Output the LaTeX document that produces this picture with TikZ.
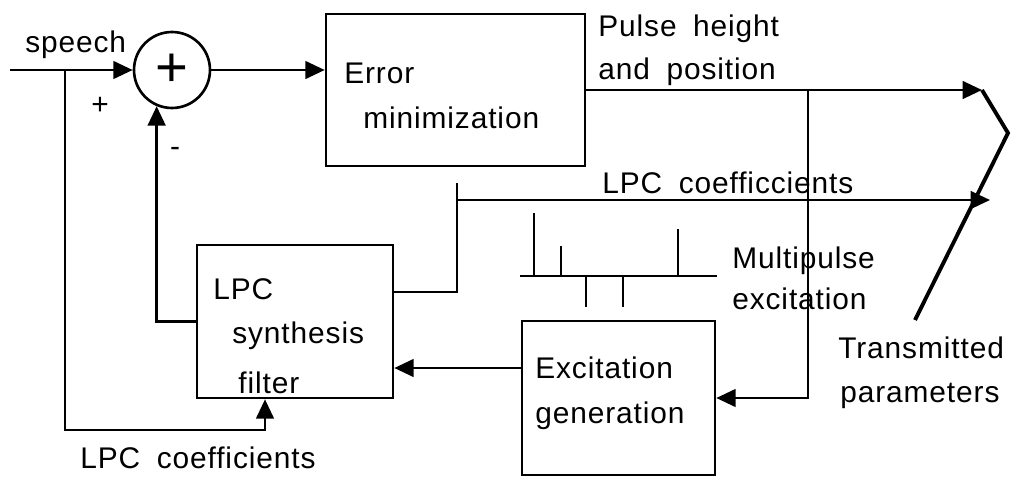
\documentclass[tikz,border=0pt]{standalone}
\usepackage{fontspec}
\setmainfont{Liberation Sans}[LetterSpace=3,WordSpace=1.8]
\usetikzlibrary{arrows.meta,positioning,calc}
\tikzset{
  blk/.style={draw,line width=1.5pt,inner sep=0pt},
  sumc/.style={draw,circle,line width=1.5pt,minimum size=1.52cm,inner sep=0pt,font=\fontsize{32}{32}\selectfont},
  arr/.style={-{Triangle[length=11pt,width=10pt]},line width=1.5pt},
  wire/.style={line width=1.5pt},
  lbl/.style={font=\fontsize{17}{20}\selectfont,inner sep=0pt,anchor=base west},
}

\begin{document}
\begin{tikzpicture}[x=0.02cm,y=-0.02cm]
  \useasboundingbox (0,0) rectangle (1021,477);
  % blocks
  \node[sumc] (sum) at (172,70) {+};
  \node[blk,minimum width=5.18cm,minimum height=3.04cm] (err) at (455.5,90) {};
  \node[blk,minimum width=3.92cm,minimum height=3.06cm] (lpc) at (295,321.5) {};
  \node[blk,minimum width=3.86cm,minimum height=3.08cm] (exc) at (618.5,398) {};
  % texts
  \node[lbl] (tspeech) at (25,52) {speech};
  \node[lbl,anchor=center] (tplus) at (100,106) {+};
  \node[lbl,anchor=center] (tminus) at (175,152) {-};
  \node[lbl] (terr1) at (344,83) {Error};
  \node[lbl] (terr2) at (363,128) {minimization};
  \node[lbl] (tpulse1) at (598,36) {Pulse height};
  \node[lbl] (tpulse2) at (598,79) {and position};
  \node[lbl] (tcoef1) at (602,193) {LPC coefficcients};
  \node[lbl] (tmulti1) at (732,268) {Multipulse};
  \node[lbl] (tmulti2) at (732,309) {excitation};
  \node[lbl] (tlpc1) at (213,299) {LPC};
  \node[lbl] (tlpc2) at (232,343) {synthesis};
  \node[lbl] (tlpc3) at (238,393) {filter};
  \node[lbl] (texc1) at (535,378) {Excitation};
  \node[lbl] (texc2) at (535,423) {generation};
  \node[lbl] (ttx1) at (838,358) {Transmitted};
  \node[lbl] (ttx2) at (840,402) {parameters};
  \node[lbl] (tcoef2) at (80,468) {LPC coefficients};
  % free ends
  \coordinate (in) at (10,70);
  \coordinate (split) at (65,70);
  \coordinate (tap) at (808,90);
  \coordinate (tx1) at (982,90);
  \coordinate (knee) at (1008,133);
  \coordinate (txend) at (915,320);
  \coordinate (stub) at (457,183);
  \coordinate (tx2) at (990,200);
  % connectors
  \draw[arr] (in) -- (sum.west);
  \draw[arr] (sum.east) -- (sum.east -| err.west);
  \draw[arr] (err.east) -- (tx1);
  \draw[arr] (tap) |- (exc.east);
  \draw[line width=2.2pt] (tx1) -- (knee) -- (txend);
  \draw[wire] (stub) |- (lpc.east |- 0,292);
  \draw[arr] (stub |- tx2) -- (tx2);
  \draw[arr] (exc.west |- 0,368) -- (lpc.east |- 0,368);
  \draw[arr] (lpc.west) -| (sum.-113);
  \draw[arr] (split) |- (265,430) -- (265,430 |- lpc.south);
  % multipulse
  \draw[wire] (520,276) -- (717,276);
  \foreach \x/\h in {534/213,561/246,678/229,586/307,623/307}{\draw[wire] (\x,276) -- (\x,\h);}
\end{tikzpicture}
\end{document}
